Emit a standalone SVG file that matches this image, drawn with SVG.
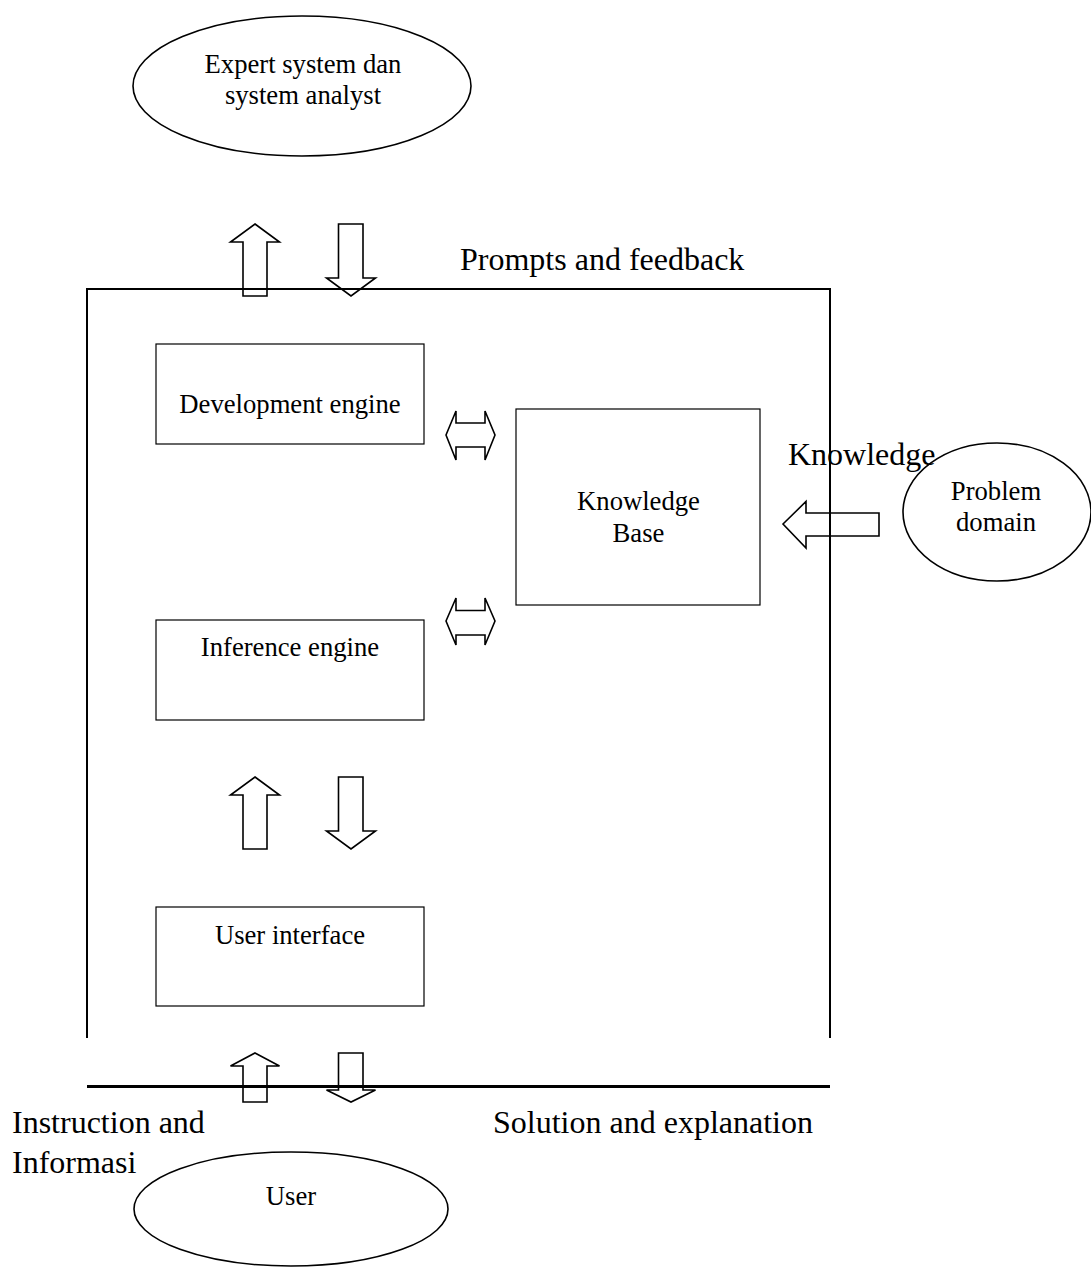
<svg xmlns="http://www.w3.org/2000/svg" width="1091" height="1268" viewBox="0 0 1091 1268">
<style>
  .bg { fill: #ffffff; }
  .box { fill: none; stroke: #000; stroke-width: 1.2; }
  .ell { fill: none; stroke: #000; stroke-width: 1.6; }
  .frame { fill: none; stroke: #000; stroke-width: 2; }
  .arrow { fill: none; stroke: #000; stroke-width: 1.6; stroke-linejoin: miter; }
  .t { font-family: "Liberation Serif", "Times New Roman", serif; fill: #000; }
  .s { font-size: 26.67px; }
  .l { font-size: 32px; }
</style>
<rect class="bg" x="0" y="0" width="1091" height="1268"/>

<g id="frame">
  <polyline class="frame" points="87,1038 87,289 830,289 830,1038"/>
  <line x1="87" y1="1086.5" x2="830" y2="1086.5" stroke="#000" stroke-width="3"/>
</g>

<g id="expert">
  <ellipse class="ell" cx="302" cy="86" rx="169" ry="70"/>
  <text class="t s" x="303" y="73" text-anchor="middle">Expert system dan</text>
  <text class="t s" x="303" y="104" text-anchor="middle">system analyst</text>
</g>

<g id="development-engine">
  <rect class="box" x="156" y="344" width="268" height="100"/>
  <text class="t s" x="290" y="413" text-anchor="middle">Development engine</text>
</g>

<g id="knowledge-base">
  <rect class="box" x="516" y="409" width="244" height="196"/>
  <text class="t s" x="638.5" y="510" text-anchor="middle">Knowledge</text>
  <text class="t s" x="638.5" y="542" text-anchor="middle">Base</text>
</g>

<g id="inference-engine">
  <rect class="box" x="156" y="620" width="268" height="100"/>
  <text class="t s" x="290" y="656" text-anchor="middle">Inference engine</text>
</g>

<g id="user-interface">
  <rect class="box" x="156" y="907" width="268" height="99"/>
  <text class="t s" x="290" y="944" text-anchor="middle">User interface</text>
</g>

<g id="problem-domain">
  <ellipse class="ell" cx="997" cy="512" rx="94" ry="69"/>
  <text class="t s" x="996" y="500" text-anchor="middle">Problem</text>
  <text class="t s" x="996" y="531" text-anchor="middle">domain</text>
</g>

<g id="user">
  <ellipse class="ell" cx="291" cy="1209" rx="157" ry="57"/>
  <text class="t s" x="291" y="1205" text-anchor="middle">User</text>
</g>

<g id="connectors">
  <!-- top: to/from expert -->
  <polygon class="arrow" points="255,224 279.5,242 267,242 267,296 243,296 243,242 230.5,242"/>
  <polygon class="arrow" points="338.5,224 363,224 363,278 375.5,278 351,296 326.5,278 338.5,278"/>
  <!-- dev engine <-> KB -->
  <polygon class="arrow" points="446,435 456,411 456,423 485,423 485,411 495,435 485,460 485,447 456,447 456,460"/>
  <!-- inference engine <-> KB -->
  <polygon class="arrow" points="446,621 456,598 456,610.5 485,610.5 485,598 495,621 485,645 485,635 456,635 456,645"/>
  <!-- inference <-> user interface -->
  <polygon class="arrow" points="255,777 279.5,795 267,795 267,849 243,849 243,795 230.5,795"/>
  <polygon class="arrow" points="338.5,777 363,777 363,831 375.5,831 351,849 326.5,831 338.5,831"/>
  <!-- user interface <-> user -->
  <polygon class="arrow" points="255,1053 279.5,1066 267,1066 267,1102 243,1102 243,1066 230.5,1066"/>
  <polygon class="arrow" points="338.5,1053 363,1053 363,1090 375.5,1090 351,1102 326.5,1090 338.5,1090"/>
  <!-- problem domain -> KB -->
  <polygon class="arrow" points="783,524 806,501.5 806,513 879,513 879,536 806,536 806,548"/>
</g>

<g id="labels">
  <text class="t l" x="460" y="270">Prompts and feedback</text>
  <text class="t l" x="788" y="465">Knowledge</text>
  <text class="t l" x="12" y="1133">Instruction and</text>
  <text class="t l" x="12" y="1173">Informasi</text>
  <text class="t l" x="493" y="1133">Solution and explanation</text>
</g>
</svg>
